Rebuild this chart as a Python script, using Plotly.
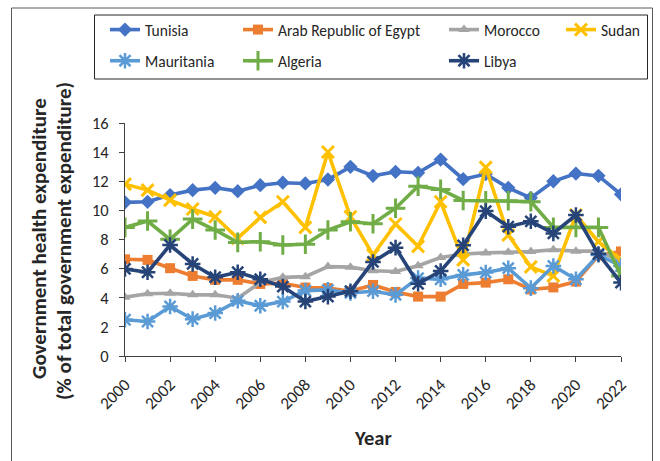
import plotly.graph_objects as go

# Government health expenditure (% of total government expenditure), 2000-2022
years = list(range(2000, 2023))

tunisia = [10.55, 10.59, 11.05, 11.39, 11.55, 11.32, 11.73, 11.9, 11.85, 12.12, 12.99, 12.37,
           12.65, 12.58, 13.49, 12.14, 12.49, 11.55, 10.86, 12.0, 12.53, 12.37, 11.1]
egypt = [6.64, 6.6, 6.03, 5.5, 5.23, 5.23, 4.95, 5.0, 4.7, 4.66, 4.45, 4.88,
         4.4, 4.08, 4.08, 4.95, 5.04, 5.27, 4.57, 4.71, 5.11, 6.9, 7.18]
morocco = [4.04, 4.27, 4.31, 4.2, 4.2, 3.97, 5.05, 5.4, 5.45, 6.14, 6.1, 5.85,
           5.8, 6.2, 6.76, 7.0, 7.08, 7.13, 7.17, 7.3, 7.2, 7.2, 6.5]
sudan = [11.8, 11.39, 10.7, 10.09, 9.56, 8.08, 9.52, 10.59, 8.83, 14.01, 9.56, 6.94,
         9.06, 7.53, 10.59, 6.6, 12.95, 8.31, 6.12, 5.5, 9.68, 7.85, 6.6]
mauritania = [2.49, 2.37, 3.4, 2.53, 2.95, 3.79, 3.45, 3.74, 4.49, 4.54, 4.33, 4.45,
              4.2, 5.35, 5.27, 5.57, 5.73, 6.03, 4.66, 6.18, 5.27, 6.94, 6.18]
algeria = [8.83, 9.27, 8.01, 9.4, 8.65, 7.8, 7.85, 7.62, 7.67, 8.65, 9.22, 9.08,
           10.15, 11.66, 11.44, 10.68, 10.66, 10.66, 10.6, 8.83, 8.83, 8.83, 5.5]
libya = [5.98, 5.75, 7.62, 6.32, 5.41, 5.75, 5.27, 4.77, 3.74, 4.08, 4.45, 6.46,
         7.44, 4.96, 5.84, 7.6, 9.95, 8.88, 9.25, 8.42, 9.68, 7.0, 5.04]

y_ticks = [0, 2, 4, 6, 8, 10, 12, 14, 16]
x_ticks = list(range(2000, 2023, 2))

FONT = "Carlito, Lato, sans-serif"
TEXT = "#262626"
W, H = 660, 461
ML, MR, MT, MB = 125, 39, 123, 105
PW, PH = W - ML - MR, H - MT - MB


def px(x):
    return (x - ML) / PW


def py(y):
    return (H - MB - y) / PH


series = [
    # name, values, colour, symbol, size, marker outline width, legend id
    ("Tunisia", tunisia, "#4472C4", "diamond", 11, 0, "legend"),
    ("Arab Republic of Egypt", egypt, "#ED7D31", "square", 10, 0, "legend2"),
    ("Morocco", morocco, "#A5A5A5", "triangle-up", 10, 0, "legend3"),
    ("Sudan", sudan, "#FFC000", "x-thin-open", 12, 3, "legend4"),
    ("Mauritania", mauritania, "#5B9BD5", "asterisk-open", 13, 2.5, "legend"),
    ("Algeria", algeria, "#70AD47", "cross-thin-open", 14, 3, "legend2"),
    ("Libya", libya, "#264478", "asterisk-open", 13, 2.5, "legend3"),
]

fig = go.Figure()
for name, vals, color, symbol, size, lw, leg in series:
    marker = dict(symbol=symbol, size=size, color=color)
    if lw:
        marker["line"] = dict(color=color, width=lw)
    fig.add_trace(go.Scatter(
        x=years, y=vals, name=name, mode="lines+markers",
        line=dict(color=color, width=3.6), marker=marker,
        legend=leg, legendgroup=name,
    ))

legend_common = dict(
    xref="container", yref="container", xanchor="left", yanchor="top",
    orientation="v", traceorder="grouped", tracegroupgap=8,
    bgcolor="rgba(0,0,0,0)", borderwidth=0,
    font=dict(family=FONT, size=15.5, color=TEXT),
)
legend_x = [105, 238, 444, 561]
legend_top = 13

fig.update_layout(
    width=W, height=H,
    margin=dict(l=ML, r=MR, t=MT, b=MB, autoexpand=False),
    paper_bgcolor="white", plot_bgcolor="white",
    font=dict(family=FONT, size=15, color=TEXT),
    showlegend=True,
    legend=dict(x=legend_x[0] / W, y=1 - legend_top / H, **legend_common),
    legend2=dict(x=legend_x[1] / W, y=1 - legend_top / H, **legend_common),
    legend3=dict(x=legend_x[2] / W, y=1 - legend_top / H, **legend_common),
    legend4=dict(x=legend_x[3] / W, y=1 - legend_top / H, **legend_common),
    xaxis=dict(
        range=[2000, 2022], tickmode="array", tickvals=x_ticks,
        ticktext=[str(t) for t in x_ticks], tickangle=-45, automargin=False,
        showgrid=False, zeroline=False, showline=True, linecolor="#404040",
        linewidth=1, ticks="outside", ticklen=5, tickcolor="#404040",
        ticklabelstandoff=6,
        tickfont=dict(family=FONT, size=17, color=TEXT),
    ),
    yaxis=dict(
        range=[0, 16], tickmode="array", tickvals=y_ticks, automargin=False,
        showgrid=False, zeroline=False, showline=True, linecolor="#404040",
        linewidth=1, ticks="outside", ticklen=5, tickcolor="#404040",
        ticklabelstandoff=7,
        tickfont=dict(family=FONT, size=16.5, color=TEXT),
    ),
    annotations=[
        dict(text="<b>Year</b>", xref="paper", yref="paper", x=0.5, y=py(438),
             showarrow=False, xanchor="center", yanchor="middle",
             font=dict(family=FONT, size=20.5, color=TEXT)),
        dict(text="<b>Government health expenditure</b>", xref="paper", yref="paper",
             x=px(39), y=py(239), textangle=-90, showarrow=False,
             xanchor="center", yanchor="middle",
             font=dict(family=FONT, size=21, color=TEXT)),
        dict(text="<b>(% of total government expenditure)</b>", xref="paper", yref="paper",
             x=px(64), y=py(241), textangle=-90, showarrow=False,
             xanchor="center", yanchor="middle",
             font=dict(family=FONT, size=21, color=TEXT)),
    ],
    shapes=[
        # legend frame
        dict(type="rect", xref="paper", yref="paper",
             x0=px(94.5), x1=px(647.5), y0=py(79), y1=py(15),
             line=dict(color="#262626", width=1), fillcolor="rgba(0,0,0,0)"),
        # chart frame
        dict(type="rect", xref="paper", yref="paper",
             x0=px(11.5), x1=px(652.5), y0=py(470), y1=py(8),
             line=dict(color="#595959", width=1), fillcolor="rgba(0,0,0,0)"),
    ],
)

fig.write_html("out.html")
